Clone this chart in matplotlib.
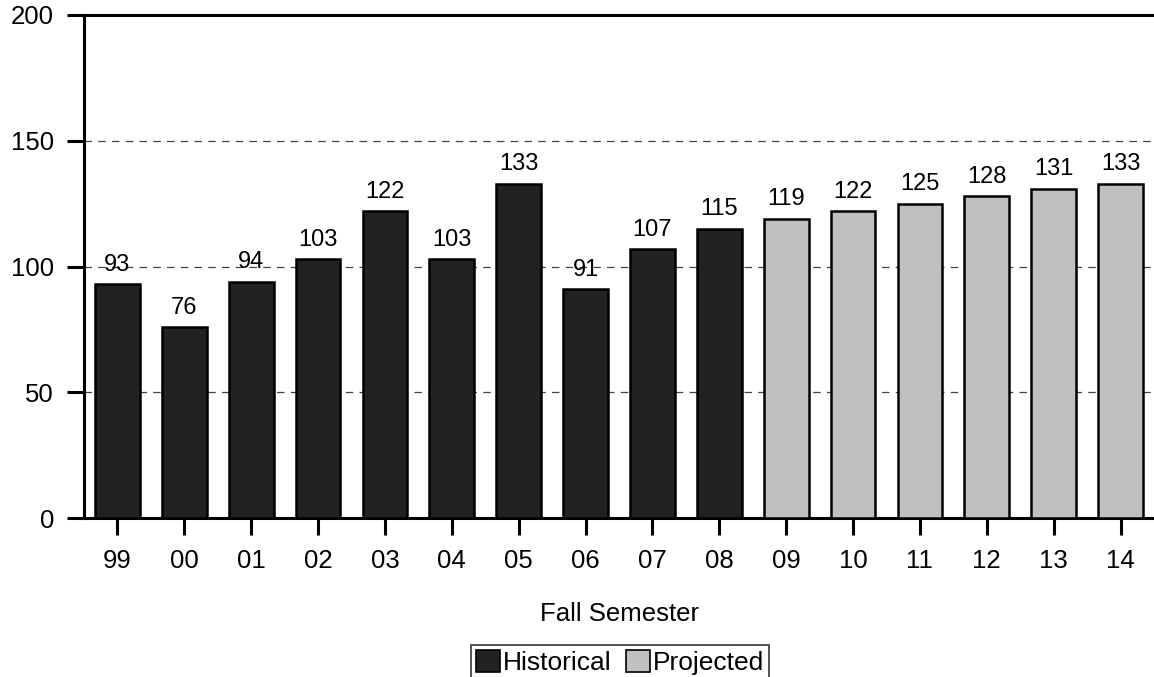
import matplotlib
matplotlib.use("Agg")
import matplotlib.pyplot as plt
from matplotlib.patches import Patch

categories = ["99", "00", "01", "02", "03", "04", "05", "06", "07", "08",
              "09", "10", "11", "12", "13", "14"]
values = [93, 76, 94, 103, 122, 103, 133, 91, 107, 115,
          119, 122, 125, 128, 131, 133]
n_historical = 10
series_names = ["Historical", "Projected"]
y_ticks = [0, 50, 100, 150, 200]

plt.rcParams['font.family'] = ['Liberation Sans', 'DejaVu Sans']

fig = plt.figure(figsize=(11.54, 6.77), dpi=100)
ax = fig.add_axes([84/1154, 1 - 518/677, 1 - 84/1154, (518 - 15)/677])

hist_color = "#222222"
proj_color = "#c0c0c0"
colors = [hist_color if i < n_historical else proj_color for i in range(len(values))]
x = list(range(len(values)))
bars = ax.bar(x, values, width=0.67, color=colors, edgecolor="black", linewidth=1.8, zorder=3)

for xi, v in zip(x, values):
    ax.annotate(str(v), (xi, v), xytext=(0, 6), textcoords="offset points",
                ha="center", va="bottom", fontsize=17, zorder=4)

ax.set_xlim(-0.5, len(values) - 0.5)
ax.set_ylim(0, 200)
ax.set_yticks(y_ticks)
ax.set_xticks(x)
ax.set_xticklabels(categories)
ax.tick_params(axis="both", direction="out", length=12, width=2.2, labelsize=18.5)
ax.tick_params(axis="y", pad=9.5)
ax.tick_params(axis="x", pad=10)

for g in [50, 100, 150]:
    ax.axhline(g, color="#444444", linewidth=0.9, linestyle=(0, (6, 5)), zorder=1)

for s in ["left", "bottom", "top"]:
    ax.spines[s].set_linewidth(2.2)
ax.spines["right"].set_visible(False)

ax.set_xlabel("Fall Semester", fontsize=18.5, labelpad=21)

handles = [Patch(facecolor=hist_color, edgecolor="black", linewidth=1.2),
           Patch(facecolor=proj_color, edgecolor="black", linewidth=1.2)]
leg = fig.legend(handles, series_names, loc="upper center",
                 bbox_to_anchor=(620/1154, 1 - 645/677), ncol=2, fontsize=19,
                 frameon=True, fancybox=False, edgecolor="black",
                 handlelength=0.9, handleheight=0.9, handletextpad=0.12,
                 columnspacing=0.55, borderpad=0.2, borderaxespad=0)
leg.get_frame().set_linewidth(1.2)

fig.savefig("out.png", dpi=100)
